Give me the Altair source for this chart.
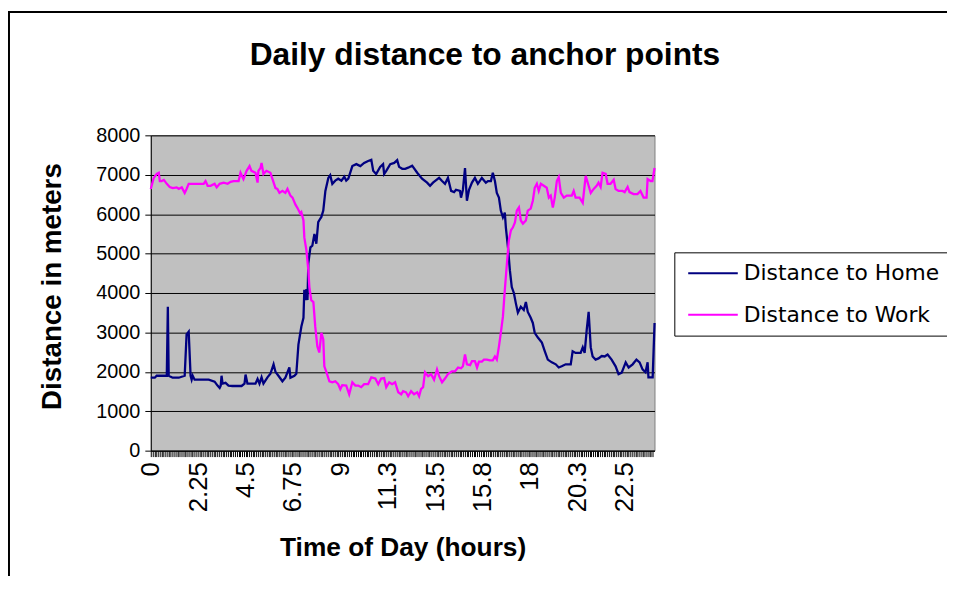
import altair as alt
import pandas as pd

# ---------------- data ----------------
home_hours = [0.00, 0.19, 0.28, 0.62, 0.76, 0.81, 0.85, 1.04, 1.33, 1.61, 1.70, 1.80, 1.89, 1.94, 1.99, 2.08,
              2.51, 2.75, 3.03, 3.17, 3.27, 3.32, 3.36, 3.41, 3.55, 3.69, 3.88, 4.31, 4.45, 4.50, 4.59, 4.83,
              4.97, 5.07, 5.16, 5.26, 5.35, 5.54, 5.68, 5.83, 5.92, 6.06, 6.25, 6.39, 6.58, 6.63, 6.82, 6.91,
              7.01, 7.15, 7.25, 7.29, 7.34, 7.39, 7.44, 7.48, 7.58, 7.67, 7.77, 7.86, 7.95, 8.05, 8.10, 8.19,
              8.29, 8.43, 8.52, 8.62, 8.76, 8.90, 9.05, 9.19, 9.28, 9.38, 9.57, 9.76, 9.95, 10.13, 10.32, 10.47,
              10.56, 10.70, 10.89, 11.03, 11.08, 11.18, 11.37, 11.56, 11.70, 11.79, 11.94, 12.08, 12.22, 12.41,
              12.65, 12.88, 13.12, 13.26, 13.40, 13.69, 13.83, 13.97, 14.11, 14.26, 14.40, 14.49, 14.68, 14.73,
              14.82, 14.92, 15.01, 15.11, 15.25, 15.39, 15.53, 15.72, 15.91, 16.01, 16.15, 16.24, 16.34, 16.43,
              16.53, 16.62, 16.72, 16.81, 16.86, 16.96, 17.05, 17.14, 17.24, 17.33, 17.43, 17.57, 17.71, 17.81,
              17.90, 18.04, 18.14, 18.23, 18.38, 18.57, 18.71, 18.85, 19.04, 19.23, 19.37, 19.51, 19.70, 19.94,
              20.03, 20.17, 20.41, 20.51, 20.60, 20.70, 20.79, 20.89, 20.98, 21.12, 21.26, 21.41, 21.55, 21.69,
              21.88, 22.07, 22.21, 22.36, 22.55, 22.69, 22.88, 23.06, 23.21, 23.35, 23.49, 23.59, 23.63, 23.83,
              23.92]
home_values = [1850, 1850, 1900, 1900, 1900, 3650, 1900, 1850, 1850, 1900, 2950, 3020, 1900, 1800, 1900, 1800,
               1800, 1800, 1750, 1650, 1590, 1650, 1900, 1700, 1720, 1650, 1640, 1640, 1700, 1930, 1700, 1700,
               1700, 1820, 1700, 1860, 1700, 1860, 1950, 2190, 2000, 1900, 1760, 1850, 2110, 1850, 1900, 1950,
               2690, 3150, 3370, 4080, 3820, 4100, 3820, 4750, 5160, 5200, 5500, 5250, 5800, 5890, 5930, 6090,
               6590, 6920, 6990, 6770, 6850, 6900, 6850, 6950, 6850, 6900, 7220, 7270, 7220, 7300, 7350, 7380,
               7100, 7020, 7200, 7270, 7020, 7100, 7270, 7300, 7370, 7200, 7150, 7150, 7180, 7230,
               7050, 6900, 6800, 6720, 6800, 6920, 6840, 6770, 6920, 6590, 6560, 6620, 6590, 6420,
               6620, 7170, 6340, 6620, 6800, 6920, 6770, 6920, 6800, 6840, 6840, 7050, 6840, 6540,
               6420, 6090, 5920, 6040, 5660, 5160, 4580, 4150, 4000, 3750, 3500, 3650, 3570, 3770,
               3520, 3370, 3240, 2990, 2870, 2740, 2520, 2310, 2240, 2190, 2110, 2140, 2190, 2190,
               2520, 2480, 2480, 2620, 2480, 3070, 3520, 2620, 2390, 2310, 2340, 2400, 2390, 2440,
               2310, 2140, 1940, 1980, 2240, 2110, 2190, 2310, 2240, 2060, 1990, 2240, 1860, 1860,
               3240]

work_hours = [0.00, 0.14, 0.28, 0.38, 0.43, 0.52, 0.62, 0.76, 0.90, 1.04, 1.23, 1.33, 1.47, 1.61, 1.70, 1.80,
              2.04, 2.27, 2.51, 2.60, 2.70, 2.84, 3.03, 3.13, 3.27, 3.46, 3.65, 3.79, 3.93, 4.17, 4.26, 4.40,
              4.55, 4.69, 4.78, 4.97, 5.07, 5.11, 5.21, 5.26, 5.35, 5.49, 5.68, 5.78, 5.92, 6.01, 6.11, 6.25,
              6.39, 6.49, 6.63, 6.73, 6.87, 6.96, 7.10, 7.15, 7.25, 7.29, 7.39, 7.48, 7.53, 7.62, 7.72, 7.81,
              7.91, 8.00, 8.10, 8.19, 8.24, 8.34, 8.48, 8.62, 8.76, 8.90, 9.00, 9.09, 9.28, 9.42, 9.57, 9.71,
              9.85, 9.99, 10.13, 10.32, 10.47, 10.66, 10.80, 10.94, 11.08, 11.18, 11.32, 11.46, 11.60, 11.75,
              11.89, 11.98, 12.12, 12.22, 12.36, 12.50, 12.65, 12.74, 12.83, 12.93, 13.02, 13.17, 13.31, 13.45,
              13.59, 13.69, 13.83, 13.97, 14.11, 14.30, 14.44, 14.59, 14.73, 14.82, 14.92, 15.01, 15.16, 15.25,
              15.39, 15.49, 15.58, 15.72, 15.82, 15.96, 16.10, 16.24, 16.34, 16.43, 16.53, 16.62, 16.72, 16.81,
              16.91, 17.00, 17.10, 17.19, 17.29, 17.38, 17.48, 17.57, 17.67, 17.81, 17.90, 18.04, 18.14, 18.23,
              18.33, 18.42, 18.52, 18.66, 18.80, 18.90, 18.99, 19.09, 19.18, 19.28, 19.37, 19.47, 19.61, 19.75,
              19.99, 20.08, 20.17, 20.36, 20.51, 20.65, 20.79, 20.89, 21.03, 21.17, 21.26, 21.36, 21.45, 21.60,
              21.69, 21.83, 21.98, 22.07, 22.21, 22.40, 22.50, 22.64, 22.73, 22.92, 23.11, 23.25, 23.40, 23.54,
              23.59, 23.73, 23.82, 23.92]
work_values = [6640, 6920, 7020, 7050, 6840, 6840, 6870, 6770, 6690, 6660, 6680, 6640, 6680, 6540, 6640, 6770,
               6770, 6770, 6770, 6840, 6720, 6720, 6770, 6680, 6770, 6800, 6770, 6820, 6840, 6840, 7050, 6890,
               7100, 7220, 7100, 7050, 6800, 7100, 7170, 7300, 7020, 7100, 7050, 6890, 6660, 6640, 6540, 6590,
               6540, 6640, 6470, 6420, 6240, 6160, 6010, 6050, 5840, 5410, 5080, 4580, 4150, 3820, 3770, 3140,
               2640, 2490, 2990, 2820, 2140, 1990, 1760, 1735, 1760, 1686, 1560, 1660, 1650, 1430, 1735, 1650,
               1650, 1610, 1686, 1686, 1860, 1830, 1686, 1830, 1840, 1610, 1735, 1686, 1735, 1480,
               1430, 1510, 1480, 1380, 1510, 1430, 1480, 1380, 1560, 1610, 1990, 1890, 1940, 1800,
               2060, 1890, 1735, 1830, 1940, 2010, 2010, 2110, 2090, 2140, 2440, 2190, 2170, 2270,
               2270, 2110, 2260, 2260, 2310, 2310, 2290, 2290, 2390, 2310, 2640, 2990, 3400, 4080,
               4750, 5330, 5590, 5660, 5790, 6090, 6170, 5840, 5760, 5840, 6090, 6140, 6340, 6670,
               6770, 6590, 6770, 6720, 6670, 6420, 6470, 6170, 6420, 6840, 6940, 6540, 6420, 6470,
               6470, 6590, 6420, 6420, 6290, 6970, 6720, 6540, 6640, 6720, 6800, 6690, 7050, 7020,
               6770, 6770, 6870, 6640, 6590, 6590, 6560, 6690, 6560, 6510, 6510, 6590, 6420, 6420,
               6890, 6840, 6840, 7170]

series_names = ["Distance to Home", "Distance to Work"]
series_colors = ["#000080", "#FF00FF"]

x_label_values = [0, 2.25, 4.5, 6.75, 9, 11.25, 13.5, 15.75, 18, 20.25, 22.5]
x_label_texts = ["0", "2.25", "4.5", "6.75", "9", "11.3", "13.5", "15.8", "18", "20.3", "22.5"]
y_tick_values = [0, 1000, 2000, 3000, 4000, 5000, 6000, 7000, 8000]

chart_title = "Daily distance to anchor points"
x_title = "Time of Day (hours)"
y_title = "Distance in meters"

assert len(home_hours) == len(home_values)
assert len(work_hours) == len(work_values)

# ---------------- build table ----------------
df = pd.concat([
    pd.DataFrame({"hour": home_hours, "value": home_values, "series": series_names[0]}),
    pd.DataFrame({"hour": work_hours, "value": work_values, "series": series_names[1]}),
], ignore_index=True)

# category-style axis: one tick per 5-minute slot, labels every 27 slots
n_slots = 288
tick_positions = [round(i / 12, 4) for i in range(n_slots)]
x_max = (n_slots - 1) / 12

label_expr = "''"
for v, t in reversed(list(zip(x_label_values, x_label_texts))):
    label_expr = f"abs(datum.value - {v}) < 0.01 ? '{t}' : ({label_expr})"

W, H = 508, 318
FONT = "Liberation Sans"

lines = alt.Chart(df).mark_line(strokeWidth=2.3).encode(
    x=alt.X("hour:Q",
            scale=alt.Scale(domain=[0, x_max], nice=False, zero=False),
            axis=alt.Axis(values=tick_positions, labelExpr=label_expr, labelAngle=270,
                          labelFontSize=26, labelOverlap=False, labelFlush=False,
                          labelColor="black", labelPadding=5, tickSize=6, tickColor="black",
                          domainColor="black", grid=False,
                          title=x_title, titleFontSize=26.5, titleFontWeight="bold",
                          titleColor="black", titleX=W / 2, titleY=85)),
    y=alt.Y("value:Q",
            scale=alt.Scale(domain=[0, 8000], nice=False),
            axis=alt.Axis(values=y_tick_values, format="d", labelFontSize=20,
                          labelColor="black", labelPadding=5, tickSize=6, tickColor="black",
                          domainColor="black", grid=True, gridColor="black", gridWidth=1,
                          title=y_title, titleFontSize=28, titleFontWeight="bold",
                          titleColor="black", titleAngle=270, titleX=-91, titleY=152,
                          titleBaseline="alphabetic")),
    color=alt.Color("series:N",
                    scale=alt.Scale(domain=series_names, range=series_colors),
                    legend=alt.Legend(orient="none", legendX=528, legendY=118, title=None,
                                      strokeColor="black", fillColor="white", padding=10,
                                      symbolType="M-5,0H5", symbolSize=100, symbolStrokeWidth=2,
                                      symbolOffset=18, labelOffset=20,
                                      labelFontSize=22, labelFont="DejaVu Sans", labelColor="black",
                                      rowPadding=20, labelLimit=500)),
)

one = alt.Data(values=[{"k": 1}])

frame_left = alt.Chart(one).mark_rule(color="black", strokeWidth=2).encode(
    x=alt.value(-143), y=alt.value(-125), y2=alt.value(600))
frame_top = alt.Chart(one).mark_rule(color="black", strokeWidth=2).encode(
    x=alt.value(-144), x2=alt.value(900), y=alt.value(-124.5))

title = alt.Chart(one).mark_text(fontSize=32, fontWeight="bold", font=FONT,
                                 align="center", baseline="alphabetic", color="black").encode(
    text=alt.value(chart_title), x=alt.value(337), y=alt.value(-71))

chart = alt.layer(frame_left, frame_top, lines, title).properties(
    width=W, height=H,
    autosize=alt.AutoSizeParams(type="none"),
    padding={"left": 144, "top": 126, "right": 295, "bottom": 124},
).configure(font=FONT, background="white").configure_view(fill="#C0C0C0", stroke="#808080")

chart.save("out.html", embed_options={"renderer": "svg", "actions": False})
